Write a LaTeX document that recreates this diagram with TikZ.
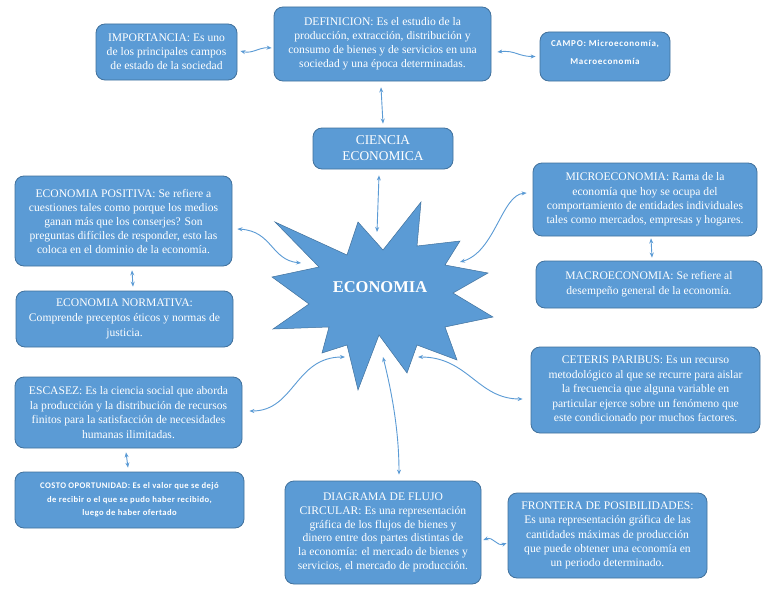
\documentclass[tikz,border=0pt]{standalone}
\usepackage{fontspec}
\setmainfont{Liberation Serif}
\newfontfamily\calib{Carlito}[LetterSpace=5]
\newfontfamily\calibw{Carlito}[LetterSpace=8]
\usetikzlibrary{arrows.meta,calc}
\definecolor{boxblue}{HTML}{5B9BD5}
\definecolor{boxedge}{HTML}{41719C}
\begin{document}
\begin{tikzpicture}[x=1pt,y=-1pt,
  box/.style={draw=boxedge,line width=0.8pt,fill=boxblue,rounded corners=9pt,inner sep=0pt,
    align=center,text=white,font=\fontsize{11.6}{14}\selectfont},
  sbox/.style={box,font=\calib\bfseries\fontsize{8.6}{13.5}\selectfont},
  conn/.style={draw=boxblue,line width=0.9pt,{Stealth[length=5pt,width=4pt]}-{Stealth[length=5pt,width=4pt]}}]
\useasboundingbox[fill=white] (0,0) rectangle (768,594);

% star
\fill[boxblue,draw=boxedge,line width=0.5pt] (275,222) -- (347,255) -- (358,222) -- (383,250) -- (421,202) -- (417,246) -- (460,241) -- (445,265) -- (488,273) -- (453,293) -- (493,317) -- (445,327) -- (457,360) -- (417,345) -- (407,373) -- (379,335) -- (358,390) -- (347,345) -- (322,353) -- (329,327) -- (273,329) -- (309,304) -- (272,277) -- (319,267) -- cycle;
\node[text=white,font=\bfseries\fontsize{16.5}{18}\selectfont] (eco) at (380,287) {ECONOMIA};

\coordinate (sC) at (377,232);
\coordinate (sP) at (301,263);
\coordinate (sM) at (460,262);
\coordinate (sCe) at (418,357);
\coordinate (sE) at (345,357);
\coordinate (sD) at (383,357);

% boxes
\node[box,minimum width=141pt,minimum height=56pt] (imp) at (166.5,52) {IMPORTANCIA: Es uno\\de los principales campos\\de estado de la sociedad};
\node[box,minimum width=217pt,minimum height=74pt] (def) at (382.5,44) {DEFINICION: Es el estudio de la\\producción, extracción, distribución y\\consumo de bienes y de servicios en una\\sociedad y una época determinadas.};
\node[box,font=\calibw\bfseries\fontsize{9}{17.5}\selectfont,text depth=8pt,minimum width=130pt,minimum height=49pt] (campo) at (605,56.5) {CAMPO: Microeconomía,\\Macroeconomía};
\node[box,font=\fontsize{13.4}{16}\selectfont,minimum width=140pt,minimum height=41pt] (ciencia) at (383,148.5) {CIENCIA\\ECONOMICA};
\node[box,minimum width=217pt,minimum height=90pt] (pos) at (123.5,221) {ECONOMIA POSITIVA: Se refiere a\\cuestiones tales como porque los medios\\ganan más que los conserjes? Son\\preguntas difíciles de responder, esto las\\coloca en el dominio de la economía.};
\node[box,font=\fontsize{11.6}{15}\selectfont,minimum width=217pt,minimum height=56pt] (norm) at (124.5,319) {ECONOMIA NORMATIVA:\\Comprende preceptos éticos y normas de\\justicia.};
\node[box,font=\fontsize{11.6}{14.3}\selectfont,minimum width=224pt,minimum height=73pt] (micro) at (645,199.5) {MICROECONOMIA: Rama de la\\economía que hoy se ocupa del\\comportamiento de entidades individuales\\tales como mercados, empresas y hogares.};
\node[box,font=\fontsize{11.6}{15}\selectfont,minimum width=226pt,minimum height=47pt] (macro) at (649,284.5) {MACROECONOMIA: Se refiere al\\desempeño general de la economía.};
\node[box,font=\fontsize{11.6}{14.5}\selectfont,minimum width=229pt,minimum height=86pt] (ceteris) at (645.5,390) {CETERIS PARIBUS: Es un recurso\\metodológico al que se recurre para aislar\\la frecuencia que alguna variable en\\particular ejerce sobre un fenómeno que\\este condicionado por muchos factores.};
\node[box,font=\fontsize{11.6}{14.5}\selectfont,minimum width=227pt,minimum height=71pt] (esc) at (128.5,412.5) {ESCASEZ: Es la ciencia social que aborda\\la producción y la distribución de recursos\\finitos para la satisfacción de necesidades\\humanas ilimitadas.};
\node[sbox,minimum width=229pt,minimum height=56pt] (costo) at (129.5,500) {COSTO OPORTUNIDAD: Es el valor que se dejó\\de recibir o el que se pudo haber recibido,\\luego de haber ofertado};
\node[box,font=\fontsize{11.6}{13.7}\selectfont,minimum width=196pt,minimum height=103pt] (diag) at (383,532.5) {DIAGRAMA DE FLUJO\\CIRCULAR: Es una representación\\gráfica de los flujos de bienes y\\dinero entre dos partes distintas de\\la economía: el mercado de bienes y\\servicios, el mercado de producción.};
\node[box,font=\fontsize{11.6}{14.3}\selectfont,minimum width=199pt,minimum height=85pt] (front) at (607.5,535.5) {FRONTERA DE POSIBILIDADES:\\Es una representación gráfica de las\\cantidades máximas de producción\\que puede obtener una economía en\\un periodo determinado.};

% connectors
\draw[conn] ($(imp.east)+(3,-1)$) .. controls +(12,3) and +(-12,-1) .. ($(def.west)+(-2,4)$);
\draw[conn] ($(def.east)+(6,8)$) .. controls +(18,-2) and +(-18,0) .. ($(campo.west)+(-4,0)$);
\draw[conn] ($(def.south)+(-1.5,6)$) -- ($(ciencia.north)+(0,-4)$);
\draw[conn] ($(ciencia.south)+(-4,6)$) -- (sC);
\draw[conn] ($(pos.east)+(5,8)$) .. controls +(35,2) and +(-30,-3) .. (sP);
\draw[conn] ($(pos.south)+(8.5,4)$) -- ($(norm.north)+(8.5,-4)$);
\draw[conn] (sM) .. controls +(35,-10) and +(-25,2) .. ($(micro.west)+(-6,-6.5)$);
\draw[conn] ($(micro.south)+(6,2)$) -- ($(macro.north)+(3,-3)$);
\draw[conn] (sCe) .. controls +(50,0) and +(-45,0) .. ($(ceteris.west)+(-8,9)$);
\draw[conn] (sE) .. controls +(-50,0) and +(45,0) .. ($(esc.east)+(7,-1.5)$);
\draw[conn] ($(esc.south)+(-2.5,4)$) -- ($(costo.north)+(-1.5,-4)$);
\draw[conn] (sD) .. controls +(10,40) and +(0,-40) .. ($(diag.north)+(16,-6)$);
\draw[conn] ($(diag.east)+(2,7.5)$) .. controls +(10,-4) and +(-10,4) .. ($(front.west)+(-1,7.5)$);
\end{tikzpicture}
\end{document}
